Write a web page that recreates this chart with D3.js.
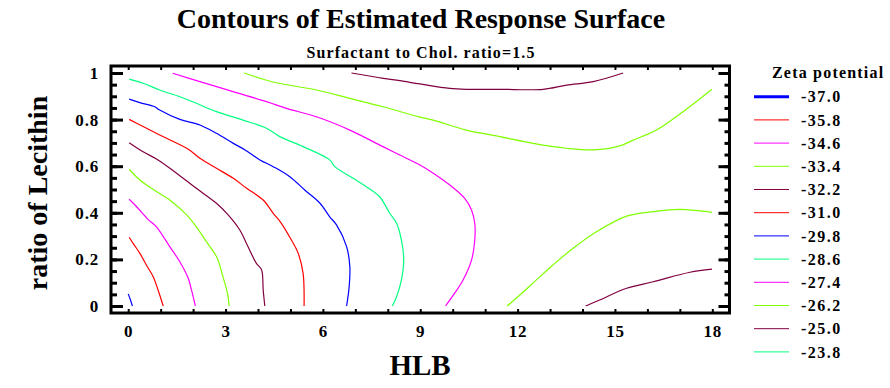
<!DOCTYPE html>
<html>
<head>
<meta charset="utf-8">
<script src="https://cdn.jsdelivr.net/npm/d3@7"></script>
<style>
  body { margin: 0; background: #fff; }
  svg { display: block; font-family: "Liberation Serif", "Times New Roman", serif; font-weight: bold; }
</style>
</head>
<body>
<svg id="chart" width="890" height="388"></svg>
<script>
// contour levels of the estimated surface (Zeta potential)
var levels = [-37.0, -35.8, -34.6, -33.4, -32.2, -31.0, -29.8, -28.6, -27.4, -26.2, -25.0, -23.8];
var levelColors = ['#0000ff', '#ff0000', '#ff00ff', '#80ff00', '#800040', '#ff0000',
  '#0000ff', '#00ff80', '#ff00ff', '#80ff00', '#800040', '#00ff80'];

var xTickLabels = [0, 3, 6, 9, 12, 15, 18];
var yTickLabels = [0, 0.2, 0.4, 0.6, 0.8, 1];

// contour lines, [HLB, ratio of Lecithin]
var line370 = [[0.0, 0.052], [0.07, 0.026], [0.13, 0]];
var line358 = [[0.03, 0.295], [0.15, 0.269], [0.36, 0.226], [0.56, 0.176], [0.77, 0.126], [0.92, 0.069], [1.08, 0]];
var line346 = [[0.03, 0.458], [0.26, 0.426], [0.61, 0.372], [0.87, 0.340], [1.28, 0.255], [1.59, 0.190],
  [1.85, 0.119], [1.95, 0.069], [2.07, 0]];
var line334 = [[0.03, 0.587], [0.36, 0.541], [0.87, 0.491], [1.28, 0.455], [1.80, 0.391], [2.10, 0.340],
  [2.41, 0.276], [2.72, 0.212], [2.92, 0.126], [3.06, 0.054], [3.11, 0]];
var line322 = [[0.03, 0.701], [0.46, 0.662], [0.92, 0.627], [1.49, 0.570], [2.10, 0.505], [2.72, 0.441],
  [3.08, 0.391], [3.44, 0.326], [3.69, 0.255], [3.95, 0.183], [4.11, 0.155], [4.16, 0.069], [4.21, 0]];
var line310 = [[0.03, 0.801], [0.46, 0.770], [0.97, 0.734], [1.85, 0.673], [2.21, 0.634], [2.72, 0.591],
  [3.24, 0.548], [3.65, 0.505], [4.16, 0.455], [4.47, 0.398], [4.72, 0.355], [5.03, 0.283], [5.24, 0.226],
  [5.39, 0.140], [5.42, 0]];
var line298 = [[0.03, 0.888], [0.36, 0.873], [0.82, 0.855], [0.97, 0.841], [1.59, 0.801], [2.21, 0.777],
  [2.72, 0.741], [3.24, 0.698], [3.60, 0.670], [4.06, 0.627], [4.47, 0.598], [4.98, 0.555], [5.44, 0.498],
  [5.91, 0.441], [6.21, 0.383], [6.42, 0.348], [6.73, 0.255], [6.83, 0.169], [6.81, 0.083], [6.73, 0]];
var line286 = [[0.03, 0.974], [0.46, 0.956], [0.97, 0.927], [1.59, 0.898], [2.10, 0.870], [2.72, 0.834],
  [3.54, 0.798], [4.26, 0.763], [4.67, 0.727], [5.39, 0.684], [6.21, 0.627], [6.37, 0.598], [6.93, 0.548],
  [7.34, 0.512], [7.75, 0.469], [8.06, 0.398], [8.27, 0.355], [8.42, 0.283], [8.49, 0.197], [8.42, 0.112],
  [8.27, 0.040], [8.14, 0]];
var line274 = [[1.37, 0.999], [2.21, 0.963], [3.23, 0.920], [4.26, 0.877], [4.88, 0.848], [5.80, 0.812],
  [6.83, 0.755], [7.85, 0.684], [8.37, 0.648], [8.99, 0.605], [9.40, 0.570], [9.91, 0.519], [10.37, 0.462],
  [10.58, 0.412], [10.68, 0.355], [10.68, 0.283], [10.58, 0.197], [10.32, 0.112], [10.06, 0.055], [9.78, 0]];
var line262Top = [[3.57, 1.0], [4.57, 0.958], [5.80, 0.927], [6.83, 0.891], [7.85, 0.855], [8.96, 0.812],
  [9.40, 0.798], [10.42, 0.755], [11.45, 0.727], [12.48, 0.698], [13.51, 0.677], [14.33, 0.670],
  [15.15, 0.687], [15.56, 0.712], [16.28, 0.755], [17.10, 0.834], [17.99, 0.930]];
var line262Bottom = [[11.68, 0], [12.07, 0.047], [12.58, 0.112], [13.09, 0.176], [13.71, 0.248],
  [14.43, 0.319], [15.36, 0.386], [16.18, 0.405], [17.0, 0.415], [17.61, 0.408], [17.99, 0.402]];
var line250Top = [[6.88, 1.0], [7.86, 0.977], [8.37, 0.967], [8.99, 0.953], [9.91, 0.934], [10.42, 0.930],
  [11.45, 0.930], [12.79, 0.930], [13.51, 0.948], [14.33, 0.963], [15.25, 1.0]];
var line250Bottom = [[14.10, 0], [14.53, 0.026], [15.36, 0.076], [16.18, 0.104], [17.31, 0.145], [17.99, 0.158]];

var contourLines = [
  {level: -37.0, points: line370},
  {level: -35.8, points: line358},
  {level: -34.6, points: line346},
  {level: -33.4, points: line334},
  {level: -32.2, points: line322},
  {level: -31.0, points: line310},
  {level: -29.8, points: line298},
  {level: -28.6, points: line286},
  {level: -27.4, points: line274},
  {level: -26.2, points: line262Top},
  {level: -26.2, points: line262Bottom},
  {level: -25.0, points: line250Top},
  {level: -25.0, points: line250Bottom}
];

var frame = {left: 111, right: 729.5, top: 66, bottom: 313};

var svg = d3.select('#chart');

var x = d3.scaleLinear().domain([-0.53, 18.53]).range([frame.left, frame.right]);
var y = d3.scaleLinear().domain([-0.03, 1.03]).range([frame.bottom, frame.top]);

var color = d3.scaleOrdinal().domain(levels).range(levelColors);

// plain hyphen for negatives, like the original
var fmt = d3.formatLocale({decimal: '.', thousands: ',', grouping: [3], currency: ['', ''], minus: '-'});

svg.append('text')
  .attr('x', 421).attr('y', 28)
  .attr('text-anchor', 'middle')
  .style('font-size', '28px')
  .text('Contours of Estimated Response Surface');

svg.append('text')
  .attr('x', 421).attr('y', 58)
  .attr('text-anchor', 'middle')
  .style('font-size', '16px')
  .style('letter-spacing', '1.1px')
  .text('Surfactant to Chol. ratio=1.5');

// contour lines
var line = d3.line()
  .x(function(d) { return x(d[0]); })
  .y(function(d) { return y(d[1]); })
  .curve(d3.curveCatmullRom.alpha(0.5));

svg.append('g').classed('contours', true)
  .selectAll('path')
  .data(contourLines)
  .enter().append('path')
  .attr('d', function(d) { return line(d.points); })
  .attr('fill', 'none')
  .attr('stroke', function(d) { return color(d.level); })
  .attr('stroke-width', 1.2);

// axes, all ticks drawn inward
var allX = d3.range(0, 19);
var minorY = d3.range(0, 21).map(function(i) { return i / 20; });

function styleAxis(g, width) {
  g.select('.domain').remove();
  g.selectAll('.tick line').attr('stroke', '#000').attr('stroke-width', width);
  g.selectAll('.tick text')
    .attr('fill', '#000')
    .style('font-family', '"Liberation Serif", "Times New Roman", serif')
    .style('font-weight', 'bold')
    .style('font-size', '17px')
    .style('letter-spacing', '0.8px');
}

svg.append('g')
  .attr('transform', 'translate(0,' + frame.bottom + ')')
  .call(d3.axisBottom(x).tickValues(allX).tickSize(-4).tickPadding(12)
    .tickFormat(function(d) { return xTickLabels.indexOf(d) >= 0 ? d : ''; }))
  .call(styleAxis, 2);

svg.append('g')
  .attr('transform', 'translate(0,' + frame.top + ')')
  .call(d3.axisTop(x).tickValues(allX).tickSize(-4).tickFormat(''))
  .call(styleAxis, 2);

svg.append('g')
  .attr('transform', 'translate(' + frame.left + ',0)')
  .call(d3.axisLeft(y).tickValues(minorY).tickSize(-6).tickFormat(''))
  .call(styleAxis, 3);

svg.append('g')
  .attr('transform', 'translate(' + frame.left + ',0)')
  .call(d3.axisLeft(y).tickValues(yTickLabels).tickSize(-12).tickPadding(12)
    .tickFormat(d3.format('')))
  .call(styleAxis, 3);

svg.append('g')
  .attr('transform', 'translate(' + frame.right + ',0)')
  .call(d3.axisRight(y).tickValues(minorY).tickSize(-5).tickFormat(''))
  .call(styleAxis, 3);

svg.append('g')
  .attr('transform', 'translate(' + frame.right + ',0)')
  .call(d3.axisRight(y).tickValues(yTickLabels).tickSize(-11).tickFormat(''))
  .call(styleAxis, 3);

svg.append('rect')
  .attr('x', frame.left).attr('y', frame.top)
  .attr('width', frame.right - frame.left)
  .attr('height', frame.bottom - frame.top)
  .attr('fill', 'none')
  .attr('stroke', '#000')
  .attr('stroke-width', 3);

// axis titles
svg.append('text')
  .attr('x', 420).attr('y', 375)
  .attr('text-anchor', 'middle')
  .style('font-size', '29px')
  .text('HLB');

svg.append('text')
  .attr('transform', 'translate(47,193) rotate(-90)')
  .attr('text-anchor', 'middle')
  .style('font-size', '28px')
  .text('ratio of Lecithin');

// legend
var legend = svg.append('g').attr('transform', 'translate(754,0)');

legend.append('text')
  .attr('x', 18).attr('y', 78)
  .style('font-size', '16px')
  .style('letter-spacing', '1.2px')
  .text('Zeta potential');

var rows = legend.selectAll('.row')
  .data(levels)
  .enter().append('g')
  .classed('row', true)
  .attr('transform', function(d, i) { return 'translate(0,' + (96.7 + i * 23.2) + ')'; });

rows.append('line')
  .attr('x1', 0).attr('x2', 35)
  .attr('stroke', color)
  .attr('stroke-width', function(d, i) { return i === 0 ? 3 : 1; });

rows.append('text')
  .attr('x', 47).attr('dy', '0.35em')
  .style('font-size', '16px')
  .style('letter-spacing', '1.5px')
  .text(fmt.format('.1f'));
</script>
</body>
</html>
